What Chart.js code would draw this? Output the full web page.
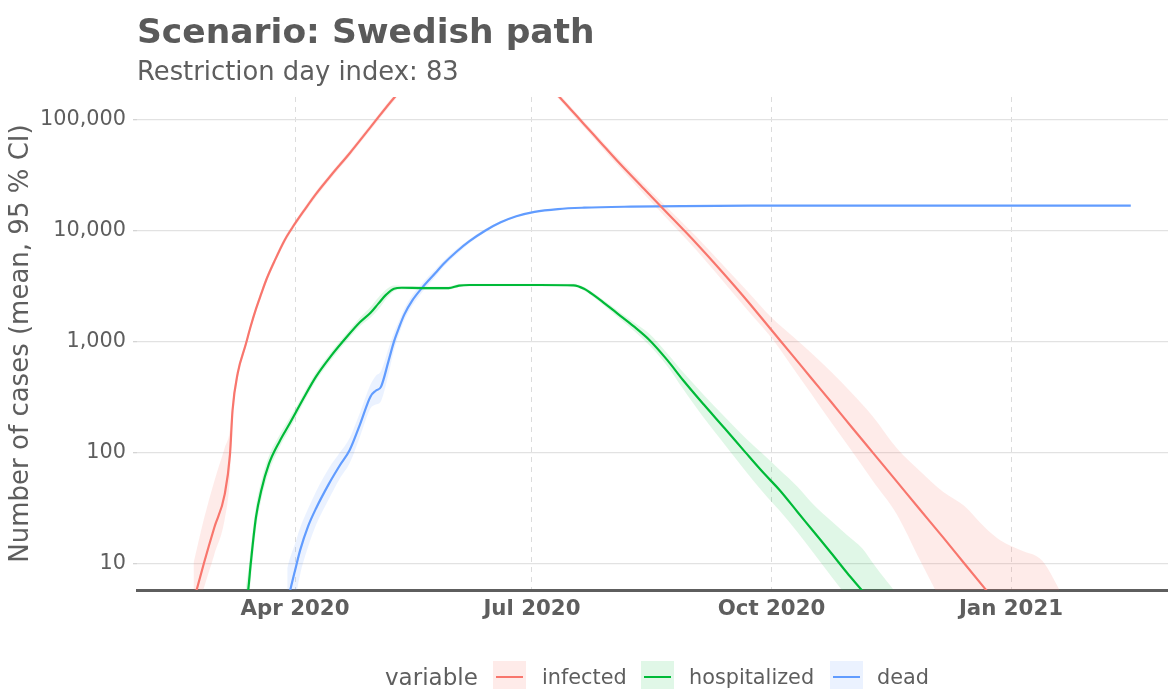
<!DOCTYPE html>
<html>
<head>
<meta charset="utf-8">
<script src="https://cdn.jsdelivr.net/npm/chart.js@4.4.1/dist/chart.umd.min.js"></script>
<style>
  body { margin: 0; background: #fff; font-family: "DejaVu Sans", sans-serif; color: #5e5e5e; }
  #wrap { position: relative; width: 1168px; height: 689px; overflow: hidden; }
  canvas { position: absolute; left: 0; top: 0; }
  .txt { position: absolute; white-space: nowrap; }
  #title { left: 137px; top: 11px; font-size: 34.5px; line-height: 40px; font-weight: bold; color: #5a5a5a; }
  #subtitle { left: 137px; top: 56px; font-size: 25.8px; line-height: 30px; }
  .leg { top: 661px; line-height: 33px; }
  .key { position: absolute; top: 661px; width: 33px; height: 33px; }
  .key span { position: absolute; left: 3px; width: 27px; top: 15px; height: 2.4px; }
</style>
</head>
<body>
<div id="wrap">
  <canvas id="chart" width="1168" height="689"></canvas>
  <div class="txt" id="title">Scenario: Swedish path</div>
  <div class="txt" id="subtitle">Restriction day index: 83</div>
  <div class="txt leg" style="left:385px;font-size:23px;">variable</div>
  <div class="key" style="left:493px;background:rgba(248,118,109,0.15)"><span style="background:#F8766D"></span></div>
  <div class="txt leg" style="left:542px;font-size:20.8px;">infected</div>
  <div class="key" style="left:641px;background:rgba(0,186,56,0.12)"><span style="background:#00BA38"></span></div>
  <div class="txt leg" style="left:689px;font-size:20.8px;">hospitalized</div>
  <div class="key" style="left:830px;background:rgba(97,156,255,0.13)"><span style="background:#619CFF"></span></div>
  <div class="txt leg" style="left:877px;font-size:20.8px;">dead</div>
</div>
<script>
// x values are days counted from 1 Jan 2020
const tickDays = [91, 182, 274, 366];
const tickLabels = ["Apr 2020", "Jul 2020", "Oct 2020", "Jan 2021"];
const yTicks = [10, 100, 1000, 10000, 100000];

const infectedDays = [52, 56, 60, 64, 66, 67, 69, 72, 74, 76, 78, 80, 83, 87, 90, 95, 99, 105, 112, 120,
  129, 140, 150, 160, 170, 180, 188, 193, 197, 202, 208, 215, 225, 232, 245, 255, 265, 274, 282, 289,
  297, 305, 313, 322, 331, 340, 348, 356, 362];
const infectedMean = [4.5, 10, 21, 42, 95, 240, 520, 930, 1380, 1970, 2690, 3630, 5250, 8220, 10700, 15850, 21400, 32000, 50100, 86100,
  158000, 295000, 417000, 457000, 400000, 300000, 207000, 157000, 123600, 91600, 64000, 42100, 23900, 16100, 7760, 4270, 2290, 1270, 755, 477,
  283, 167, 99, 55, 30.5, 17, 10, 5.9, 4.0];
const infectedBandDays = infectedDays.concat([370, 378, 386]);
const infectedHigh = [10, 25, 55, 110, 160, 290, 560, 990, 1460, 2090, 2850, 3850, 5570, 8710, 11300, 16800, 22700, 33900, 53100, 91300,
  167000, 310000, 438000, 480000, 420000, 315000, 218000, 166000, 131000, 97100, 68500, 45500, 26300, 18000, 8900, 5000, 2800, 1650, 1120, 800,
  530, 340, 210, 110, 68, 44, 33, 21, 16, 13, 10.5, 5];
const infectedLow = [3, 6, 12, 25, 60, 200, 480, 870, 1300, 1850, 2530, 3410, 4940, 7730, 10100, 14900, 20100, 30100, 47100, 80900,
  148500, 280000, 396000, 434000, 380000, 285000, 196000, 148000, 116000, 86000, 59500, 38700, 21500, 14300, 6750, 3600, 1900, 1080, 590, 345,
  186, 102, 55, 28, 10.7, 4.2, 2, 1.5, 1, 1, 1, 1];

const hospDays = [72, 73, 74, 76, 78, 81, 85, 89, 94, 99, 105, 111, 116, 120, 123, 126, 129, 132, 140, 150,
  154, 158, 170, 185, 198, 202, 206, 210, 215, 221, 227, 234, 240, 248, 256, 264, 271, 277, 284, 290,
  297, 303, 309, 313];
const hospMean = [4, 5.7, 10, 26, 45, 79, 125, 183, 300, 480, 750, 1110, 1500, 1820, 2200, 2650, 3000, 3060, 3040, 3040,
  3200, 3240, 3240, 3240, 3220, 3000, 2600, 2200, 1780, 1380, 1040, 680, 450, 270, 165, 100, 65, 46, 29, 19.5,
  12.3, 8.2, 5.6, 4.3];
const hospBandDays = hospDays.concat([318, 323]);
const hospHigh = [6, 8.5, 14, 33, 55, 93, 143, 205, 330, 525, 815, 1200, 1650, 2050, 2500, 2950, 3200, 3180, 3140, 3140,
  3300, 3330, 3330, 3330, 3320, 3110, 2720, 2320, 1900, 1500, 1180, 780, 530, 330, 210, 135, 95, 70, 49, 34,
  24, 18, 13.5, 10, 7, 5];
const hospLow = [2.5, 3.8, 7, 20, 37, 67, 110, 163, 272, 440, 690, 1020, 1380, 1650, 1950, 2420, 2850, 2950, 2940, 2940,
  3100, 3150, 3150, 3150, 3120, 2880, 2480, 2080, 1660, 1260, 930, 600, 375, 205, 118, 68, 43, 30, 19, 12.5,
  7.6, 5, 3.4, 2.4, 1.5, 1];

const deadDays = [88, 89, 91, 93, 96, 99, 104, 108, 112, 116, 120, 122, 124, 127, 129, 131, 133, 136, 140, 145,
  148, 153, 158, 164, 170, 176, 183, 192, 202, 220, 240, 266, 300, 340, 380, 412];
const deadMean = [4.3, 5.5, 8.6, 13.2, 21.5, 31, 52, 75, 105, 180, 320, 360, 390, 680, 1000, 1350, 1760, 2340, 3090, 4170,
  5010, 6460, 8040, 10000, 11900, 13500, 14800, 15700, 16150, 16500, 16700, 16830, 16850, 16850, 16850, 16850];
const deadHigh = [9, 11, 15, 21, 31, 44, 72, 98, 135, 230, 410, 490, 540, 880, 1200, 1550, 1980, 2600, 3400, 4500,
  5350, 6850, 8400, 10350, 12150, 13700, 15000, 15850, 16250, 16600, 16800, 16930, 16950, 16950, 16950, 16950];
const deadLow = [1.5, 2, 4.5, 8, 14, 22, 38, 57, 80, 140, 250, 270, 290, 520, 830, 1170, 1560, 2100, 2820, 3870,
  4700, 6100, 7700, 9700, 11650, 13300, 14600, 15550, 16050, 16400, 16600, 16730, 16750, 16750, 16750, 16750];

const textColor = "#5e5e5e";

function pts(days, values) {
  return days.map((d, i) => ({ x: d, y: values[i] }));
}

// upper edge first, lower edge filled up to it
function bandSets(days, high, low, fillColor) {
  return [
    { data: pts(days, high), borderWidth: 0, pointRadius: 0, fill: false,
      cubicInterpolationMode: "monotone", order: 2 },
    { data: pts(days, low), borderWidth: 0, pointRadius: 0, fill: "-1",
      backgroundColor: fillColor, cubicInterpolationMode: "monotone", order: 2 },
  ];
}

function meanSet(label, days, values, color) {
  return { label: label, data: pts(days, values), borderColor: color, borderWidth: 2.2,
    pointRadius: 0, fill: false, cubicInterpolationMode: "monotone", order: 1 };
}

const datasets = [
  ...bandSets(infectedBandDays, infectedHigh, infectedLow, "rgba(248,118,109,0.15)"),
  ...bandSets(hospBandDays, hospHigh, hospLow, "rgba(0,186,56,0.12)"),
  ...bandSets(deadDays, deadHigh, deadLow, "rgba(97,156,255,0.13)"),
  meanSet("infected", infectedDays, infectedMean, "#F8766D"),
  meanSet("hospitalized", hospDays, hospMean, "#00BA38"),
  meanSet("dead", deadDays, deadMean, "#619CFF"),
];

const ctx = document.getElementById("chart").getContext("2d");
new Chart(ctx, {
  type: "line",
  data: { datasets: datasets },
  options: {
    responsive: false,
    animation: false,
    devicePixelRatio: 1,
    layout: { padding: { top: 97, left: 0, right: 0, bottom: 0 } },
    plugins: { legend: { display: false }, tooltip: { enabled: false }, title: { display: false } },
    scales: {
      x: {
        type: "linear",
        min: 30.3,
        max: 426.3,
        bounds: "data",
        afterBuildTicks: (s) => { s.ticks = tickDays.map((v) => ({ value: v })); },
        afterFit: (s) => { s.height = 99; },
        ticks: {
          autoSkip: false,
          maxRotation: 0,
          padding: 7,
          color: textColor,
          font: { family: "DejaVu Sans", size: 21.3, weight: "bold" },
          callback: (v) => tickLabels[tickDays.indexOf(v)],
        },
        grid: { color: "#dcdcdc", lineWidth: 1, drawTicks: false },
        border: { display: true, color: "#5e5e5e", width: 3, dash: [5, 5] },
      },
      y: {
        type: "logarithmic",
        min: 5.73,
        max: 161000,
        bounds: "data",
        afterBuildTicks: (s) => { s.ticks = yTicks.map((v) => ({ value: v })); },
        afterFit: (s) => { s.width = 137; },
        ticks: {
          padding: 7,
          color: textColor,
          font: { family: "DejaVu Sans", size: 20.8 },
          callback: (v) => Number(v).toLocaleString("en-US"),
        },
        grid: { color: "#e2e2e2", lineWidth: 1.3, tickLength: 4, tickColor: "#d4d4d4" },
        border: { display: false },
        title: {
          display: true,
          text: "Number of cases (mean, 95 % CI)",
          color: textColor,
          font: { family: "DejaVu Sans", size: 26 },
          padding: { top: 6, bottom: 0 },
        },
      },
    },
  },
});
</script>
</body>
</html>
